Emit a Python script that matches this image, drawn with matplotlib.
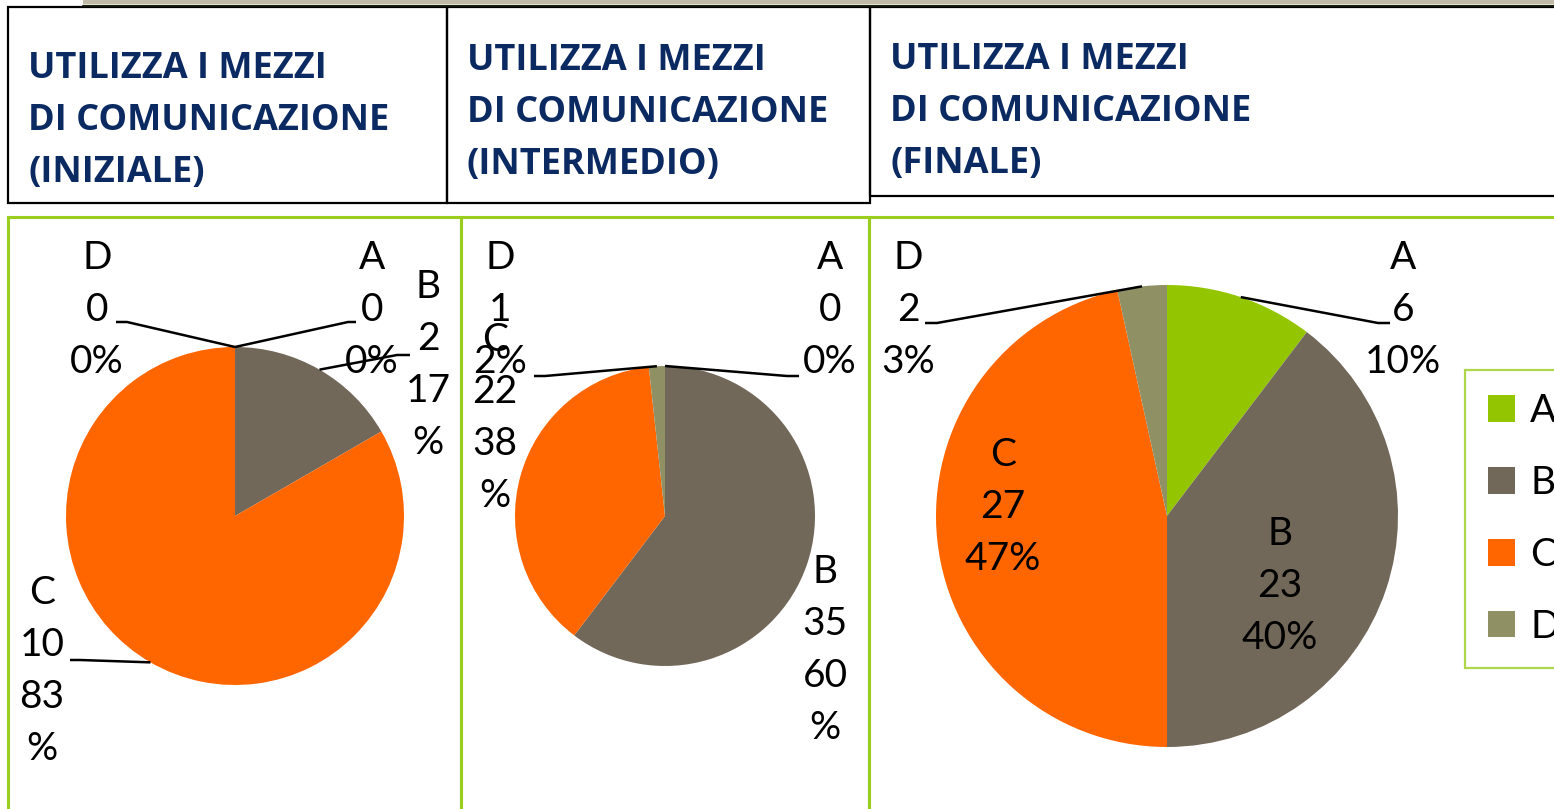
import numpy as np
import matplotlib
matplotlib.use("Agg")
import matplotlib.pyplot as plt
from matplotlib.patches import Rectangle

# data
categories = ["A", "B", "C", "D"]
iniziale = [0, 2, 10, 0]
intermedio = [0, 35, 22, 1]
finale = [6, 23, 27, 2]
titles = [
    "UTILIZZA I MEZZI\nDI COMUNICAZIONE\n(INIZIALE)",
    "UTILIZZA I MEZZI\nDI COMUNICAZIONE\n(INTERMEDIO)",
    "UTILIZZA I MEZZI\nDI COMUNICAZIONE\n(FINALE)",
]

colors = ["#94c600", "#71685a", "#ff6600", "#8f9165"]
green = "#9acd1e"
navy = "#0b2a62"

W, H = 1554, 809
plt.rcParams["font.family"] = ["Lato", "DejaVu Sans"]

fig = plt.figure(figsize=(W / 100, H / 100), dpi=100)
ax = fig.add_axes([0, 0, 1, 1])
ax.set_xlim(0, W)
ax.set_ylim(0, H)
ax.axis("off")


def Y(y):
    # image row -> data y
    return H - y


def box(x0, y0, x1, y1, color, lw):
    ax.add_patch(Rectangle((x0, Y(y1)), x1 - x0, y1 - y0, fill=False,
                           edgecolor=color, linewidth=lw, clip_on=False))


# top strip
ax.add_patch(Rectangle((83, Y(4)), W - 83, 4, color="#c2baa8", lw=0))
ax.plot([83, W], [Y(4.5), Y(4.5)], color="#5a7a10", lw=1)
ax.plot([83, W], [Y(6), Y(6)], color="#111111", lw=1.2)

# header boxes
box(8, 7, 447, 203, "black", 1.6)
box(447, 7, 870, 203, "black", 1.6)
box(870, 7, 1570, 196, "black", 1.6)
title_pos = [(28, 121), (467, 113), (890, 112)]
for (tx, ty), t in zip(title_pos, titles):
    ax.text(tx, Y(ty), t, fontsize=26, fontweight="bold", color=navy,
            family=["Open Sans", "DejaVu Sans"], ha="left", va="center",
            linespacing=1.6)

# panels
box(8, 217, 461, 830, green, 2.2)
box(461, 217, 869, 830, green, 2.2)
box(869, 217, 1570, 830, green, 2.2)

# pies: center, radius (image px)
pies = [
    (iniziale, (235, 516), 169),
    (intermedio, (665, 516), 150),
    (finale, (1167, 516), 231),
]

# label layout per pie: category -> (x, y, wrap, leader elbow, leader end)
layouts = [
    {
        "D": (97, 310, False, (127, 322), (116, 322)),
        "A": (372, 310, False, (348, 322), (356, 322)),
        "B": (428, 365, True, (397, 355), (410, 355)),
        "C": (42, 671, True, (80, 660), (70, 660)),
    },
    {
        "D": (500, 310, False, (545, 376), (534, 376)),
        "A": (830, 310, False, (787, 376), (799, 376)),
        "C": (495, 418, True, None, None),
        "B": (825, 650, True, None, None),
    },
    {
        "D": (908, 310, False, (937, 323), (925, 323)),
        "A": (1403, 310, False, (1378, 323), (1390, 323)),
        "C": (1003, 507, False, None, None),
        "B": (1280, 586, False, None, None),
    },
]


def label_text(cat, val, pct, wrap):
    if wrap:
        return f"{cat}\n{val}\n{pct}\n%"
    return f"{cat}\n{val}\n{pct}%"


legend_handles = None
for (vals, (cx, cy), r), lay in zip(pies, layouts):
    wedges, _ = ax.pie(vals, colors=colors, startangle=90, counterclock=False,
                       center=(cx, Y(cy)), radius=r, frame=True,
                       wedgeprops=dict(linewidth=0))
    total = sum(vals)
    for w, cat, v in zip(wedges, categories, vals):
        lx, ly, wrap, elbow, end = lay[cat]
        pct = int(round(100 * v / total))
        ax.text(lx, Y(ly), label_text(cat, v, pct, wrap), fontsize=28,
                ha="center", va="center", linespacing=1.55, color="black")
        if elbow is not None:
            mid = np.deg2rad((w.theta1 + w.theta2) / 2)
            px = cx + r * np.cos(mid)
            py = Y(cy) + r * np.sin(mid)
            ax.plot([px, elbow[0], end[0]], [py, Y(elbow[1]), Y(end[1])],
                    color="black", lw=1.8, solid_capstyle="butt")
    legend_handles = wedges

ax.set_xlim(0, W)
ax.set_ylim(0, H)
ax.set_aspect("auto")

leg = ax.legend(legend_handles, categories, loc="upper left",
                bbox_to_anchor=(1465 / W, 1 - 370 / H), bbox_transform=ax.transAxes,
                fontsize=28, frameon=True, fancybox=False, handlelength=0.68,
                handleheight=0.68, handletextpad=0.4, labelspacing=0.92,
                borderpad=0.6, borderaxespad=0)
leg.get_frame().set_edgecolor(green)
leg.get_frame().set_linewidth(1.6)

fig.savefig("out.png", dpi=100)
